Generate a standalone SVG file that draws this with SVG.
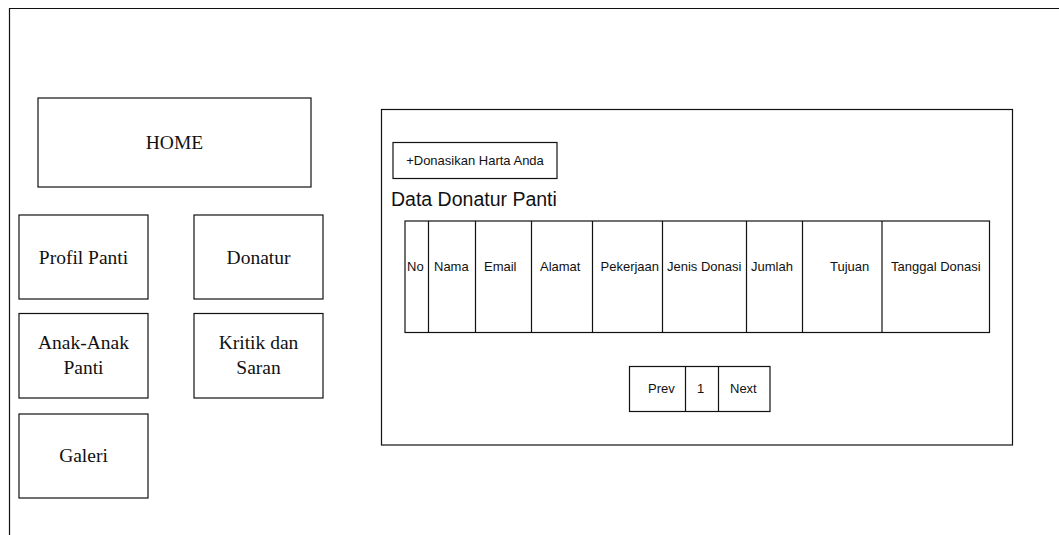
<svg xmlns="http://www.w3.org/2000/svg" width="1059" height="535" viewBox="0 0 1059 535">
<style>
.box{fill:#fff;stroke:#111;stroke-width:1.2}
.ln{stroke:#111;stroke-width:1.2;fill:none}
.serif{font-family:"Liberation Serif","Times New Roman",serif;font-size:19.5px;fill:#111;text-anchor:middle}
.sans{font-family:"Liberation Sans",Arial,sans-serif;font-size:13px;fill:#111}
</style>
<rect width="1059" height="535" fill="#fff"/>
<g id="frame"><path class="ln" d="M9.5 535 V8.5 H1059" stroke="#444"/></g>
<g id="home"><rect class="box" x="38" y="98" width="273" height="89"/><text class="serif" x="174.5" y="149">HOME</text></g>
<g id="profil"><rect class="box" x="19" y="215" width="129" height="84"/><text class="serif" x="83.5" y="263.5">Profil Panti</text></g>
<g id="donatur"><rect class="box" x="194" y="215" width="129" height="84"/><text class="serif" x="258.5" y="263.5">Donatur</text></g>
<g id="anak"><rect class="box" x="19" y="313.5" width="129" height="84.5"/><text class="serif" x="83.5" y="348.5">Anak-Anak</text><text class="serif" x="83.5" y="373.5">Panti</text></g>
<g id="kritik"><rect class="box" x="194" y="313.5" width="129" height="84.5"/><text class="serif" x="258.5" y="348.5">Kritik dan</text><text class="serif" x="258.5" y="373.5">Saran</text></g>
<g id="galeri"><rect class="box" x="19" y="414" width="129" height="84"/><text class="serif" x="83.5" y="462">Galeri</text></g>
<g id="panel">
<rect class="box" x="381.5" y="109.5" width="631" height="335.5" stroke="#333"/>
<rect class="box" x="393" y="142.5" width="164" height="36"/>
<text class="sans" x="475" y="165" text-anchor="middle">+Donasikan Harta Anda</text>
<text class="sans" x="391" y="206" style="font-size:19.5px">Data Donatur Panti</text>
</g>
<g id="table">
<rect class="box" x="405" y="221" width="584.5" height="111.5"/>
<path class="ln" d="M428.5 221V332.5M475.5 221V332.5M531.5 221V332.5M592.5 221V332.5M662.5 221V332.5M746.5 221V332.5M802.5 221V332.5M882 221V332.5"/>
<text class="sans" x="407" y="271">No</text>
<text class="sans" x="434" y="271">Nama</text>
<text class="sans" x="484" y="271">Email</text>
<text class="sans" x="540" y="271">Alamat</text>
<text class="sans" x="600.5" y="271">Pekerjaan</text>
<text class="sans" x="667" y="271">Jenis Donasi</text>
<text class="sans" x="751" y="271">Jumlah</text>
<text class="sans" x="830" y="271">Tujuan</text>
<text class="sans" x="891" y="271">Tanggal Donasi</text>
</g>
<g id="pagination">
<rect class="box" x="629.5" y="366.5" width="140.5" height="45"/>
<path class="ln" d="M685.5 366.5V411.5M718.5 366.5V411.5"/>
<text class="sans" x="648" y="393">Prev</text>
<text class="sans" x="697" y="393">1</text>
<text class="sans" x="730" y="393">Next</text>
</g>
<g id="connectors"></g>
</svg>
